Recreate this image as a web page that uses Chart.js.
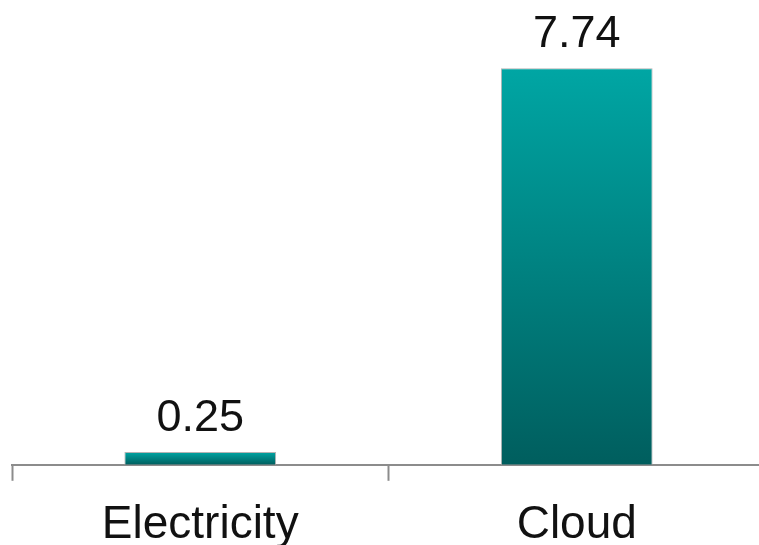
<!DOCTYPE html>
<html>
<head>
<meta charset="utf-8">
<script src="https://cdn.jsdelivr.net/npm/chart.js@4"></script>
<style>
  html, body { margin: 0; padding: 0; overflow: hidden; background: #fff; }
  #wrap { width: 766px; height: 545px; }
</style>
</head>
<body>
<div id="wrap"><canvas id="chart"></canvas></div>
<script>
const categories = ["Electricity", "Cloud"];
const values = [0.25, 7.74];
const valueLabels = ["0.25", "7.74"];

const FONT = "'Liberation Sans', Arial, sans-serif";

// vertical teal gradient spanning each bar on its own
function barGradient(context) {
  const chart = context.chart;
  const y = chart.scales.y;
  if (!chart.chartArea || !y) return "#00a0a0";
  const top = y.getPixelForValue(context.raw);
  const bottom = y.getPixelForValue(0);
  const g = chart.ctx.createLinearGradient(0, top, 0, bottom);
  g.addColorStop(0, "#00a6a4");
  g.addColorStop(1, "#005e5e");
  return g;
}

const valueLabelPlugin = {
  id: "valueLabels",
  afterDatasetsDraw(chart) {
    const ctx = chart.ctx;
    const meta = chart.getDatasetMeta(0);
    ctx.save();
    ctx.font = "45px " + FONT;
    ctx.fillStyle = "#111";
    ctx.textAlign = "center";
    ctx.textBaseline = "alphabetic";
    meta.data.forEach(function (bar, i) {
      ctx.fillText(valueLabels[i], bar.x, bar.y - 21);
    });
    ctx.restore();
  },
};

new Chart(document.getElementById("chart").getContext("2d"), {
  type: "bar",
  data: {
    labels: categories,
    datasets: [
      {
        data: values,
        backgroundColor: barGradient,
        borderColor: "#b4b4b4",
        borderWidth: 1,
        categoryPercentage: 1,
        barPercentage: 0.403,
      },
    ],
  },
  options: {
    responsive: true,
    maintainAspectRatio: false,
    animation: false,
    layout: {
      padding: { left: 12, right: 1, top: 55, bottom: -25 },
    },
    scales: {
      y: {
        display: false,
        min: 0,
        max: 8,
      },
      x: {
        grid: {
          drawOnChartArea: false,
          drawTicks: true,
          tickLength: 16,
          tickWidth: 2,
          tickColor: "#8c8c8c",
        },
        border: {
          display: true,
          color: "#8c8c8c",
          width: 2,
        },
        ticks: {
          padding: 17,
          color: "#111",
          font: { family: FONT, size: 46, lineHeight: 1.2 },
          maxRotation: 0,
        },
      },
    },
    plugins: {
      legend: { display: false },
      tooltip: { enabled: false },
    },
  },
  plugins: [valueLabelPlugin],
});
</script>
</body>
</html>
